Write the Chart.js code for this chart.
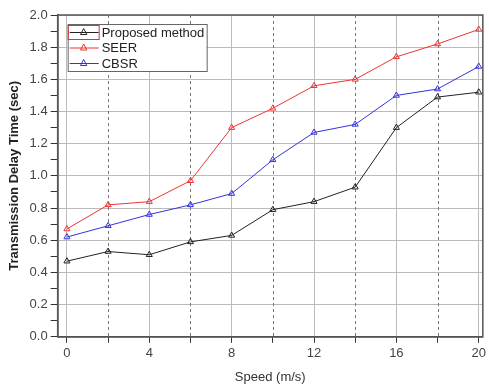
<!DOCTYPE html>
<html>
<head>
<meta charset="utf-8">
<script src="https://cdn.jsdelivr.net/npm/chart.js@4"></script>
<style>
  html, body { margin: 0; padding: 0; background: #fff; }
  #wrap { width: 489px; height: 387px; }
</style>
</head>
<body>
<div id="wrap"><canvas id="delayChart" width="489" height="387"></canvas></div>
<script>
const speeds = [0, 2, 4, 6, 8, 10, 12, 14, 16, 18, 20];
const proposedDelay = [0.47, 0.53, 0.51, 0.59, 0.63, 0.79, 0.84, 0.93, 1.30, 1.49, 1.52];
const seerDelay = [0.67, 0.82, 0.84, 0.97, 1.30, 1.42, 1.56, 1.60, 1.74, 1.82, 1.91];
const cbsrDelay = [0.62, 0.69, 0.76, 0.82, 0.89, 1.10, 1.27, 1.32, 1.50, 1.54, 1.68];
const seriesNames = ['Proposed method', 'SEER', 'CBSR'];
const dashedX = [2, 6, 10, 14, 18];

const FONT = '"Liberation Sans", Arial, sans-serif';

function pts(ys) {
  return speeds.map((x, i) => ({ x: x, y: ys[i] }));
}

function series(label, ys, color) {
  return {
    label: label,
    data: pts(ys),
    borderColor: color,
    backgroundColor: 'rgba(255,255,255,0)',
    borderWidth: 1,
    pointStyle: 'triangle',
    pointRadius: 3.5,
    pointBorderWidth: 1,
    pointBorderColor: color,
    pointBackgroundColor: 'rgba(255,255,255,0)',
    tension: 0
  };
}

// dashed x grid + frame + legend box
const extras = {
  id: 'extras',
  beforeDatasetsDraw(chart) {
    const { ctx, chartArea: a, scales } = chart;
    ctx.save();
    ctx.strokeStyle = '#777';
    ctx.lineWidth = 1;
    ctx.setLineDash([3, 3]);
    dashedX.forEach(v => {
      const x = Math.round(scales.x.getPixelForValue(v)) + 0.5;
      ctx.beginPath();
      ctx.moveTo(x, a.top);
      ctx.lineTo(x, a.bottom);
      ctx.stroke();
    });
    ctx.restore();
  },
  afterDraw(chart) {
    const { ctx, chartArea: a } = chart;
    ctx.save();
    ctx.strokeStyle = '#555';
    ctx.lineWidth = 1.5;
    ctx.strokeRect(a.left, a.top, a.right - a.left, a.bottom - a.top);

    // legend
    const bx = a.left + 10, by = a.top + 9, bw = 139, bh = 47;
    ctx.fillStyle = '#fff';
    ctx.fillRect(bx, by, bw, bh);
    ctx.strokeStyle = '#666';
    ctx.lineWidth = 1;
    ctx.strokeRect(bx + 0.5, by + 0.5, bw, bh);
    ctx.font = '13px ' + FONT;
    ctx.textBaseline = 'middle';
    chart.data.datasets.forEach((ds, i) => {
      const y = by + 8 + i * 15.5;
      ctx.strokeStyle = ds.borderColor;
      ctx.beginPath();
      ctx.moveTo(bx + 2, y + 0.5);
      ctx.lineTo(bx + 31, y + 0.5);
      ctx.stroke();
      // triangle marker
      const cx = bx + 16;
      ctx.beginPath();
      ctx.moveTo(cx, y - 3.5);
      ctx.lineTo(cx + 3.2, y + 2.5);
      ctx.lineTo(cx - 3.2, y + 2.5);
      ctx.closePath();
      ctx.stroke();
      ctx.fillStyle = '#222';
      ctx.fillText(seriesNames[i], bx + 34, y + 1);
    });
    // red selection box around first legend sample
    ctx.strokeStyle = '#e03030';
    ctx.strokeRect(bx + 0.5, by + 1.5, 31, 14);
    ctx.restore();
  }
};

new Chart(document.getElementById('delayChart'), {
  type: 'line',
  data: {
    datasets: [
      series(seriesNames[0], proposedDelay, '#222222'),
      series(seriesNames[1], seerDelay, '#ee3333'),
      series(seriesNames[2], cbsrDelay, '#3333dd')
    ]
  },
  options: {
    responsive: false,
    animation: false,
    layout: { padding: { left: 7, top: 15, right: 0, bottom: 2 } },
    plugins: {
      legend: { display: false },
      tooltip: { enabled: false }
    },
    scales: {
      x: {
        type: 'linear',
        min: -0.45,
        max: 20.2,
        afterBuildTicks(scale) {
          scale.ticks = speeds.map(v => ({ value: v }));
        },
        ticks: {
          autoSkip: false,
          maxRotation: 0,
          color: '#444',
          font: { family: FONT, size: 13 },
          padding: 3,
          callback: v => (v % 4 === 0 ? String(v) : '')
        },
        grid: {
          color: ctx => (ctx.tick && ctx.tick.value % 4 === 0 ? '#bbbbbb' : 'rgba(0,0,0,0)'),
          tickColor: '#333',
          tickLength: 6,
          drawOnChartArea: true
        },
        border: { color: '#333', width: 1.5 },
        title: {
          display: true,
          text: 'Speed (m/s)',
          color: '#333',
          font: { family: FONT, size: 13 },
          padding: { top: 5, bottom: 0 }
        }
      },
      y: {
        min: 0,
        max: 2.0,
        ticks: {
          stepSize: 0.1,
          autoSkip: false,
          color: '#444',
          font: { family: FONT, size: 13 },
          padding: 3,
          callback: v => (Math.round(v * 10) % 2 === 0 ? v.toFixed(1) : '')
        },
        grid: {
          color: ctx => (ctx.tick && Math.round(ctx.tick.value * 10) % 2 === 0 ? '#bbbbbb' : 'rgba(0,0,0,0)'),
          tickColor: '#333',
          tickLength: 7
        },
        border: { color: '#333', width: 1.5 },
        title: {
          display: true,
          text: 'Transmission Delay Time (sec)',
          color: '#222',
          font: { family: FONT, size: 13, weight: 'bold' },
          padding: { top: 0, bottom: 4 }
        }
      }
    }
  },
  plugins: [extras]
});
</script>
</body>
</html>
